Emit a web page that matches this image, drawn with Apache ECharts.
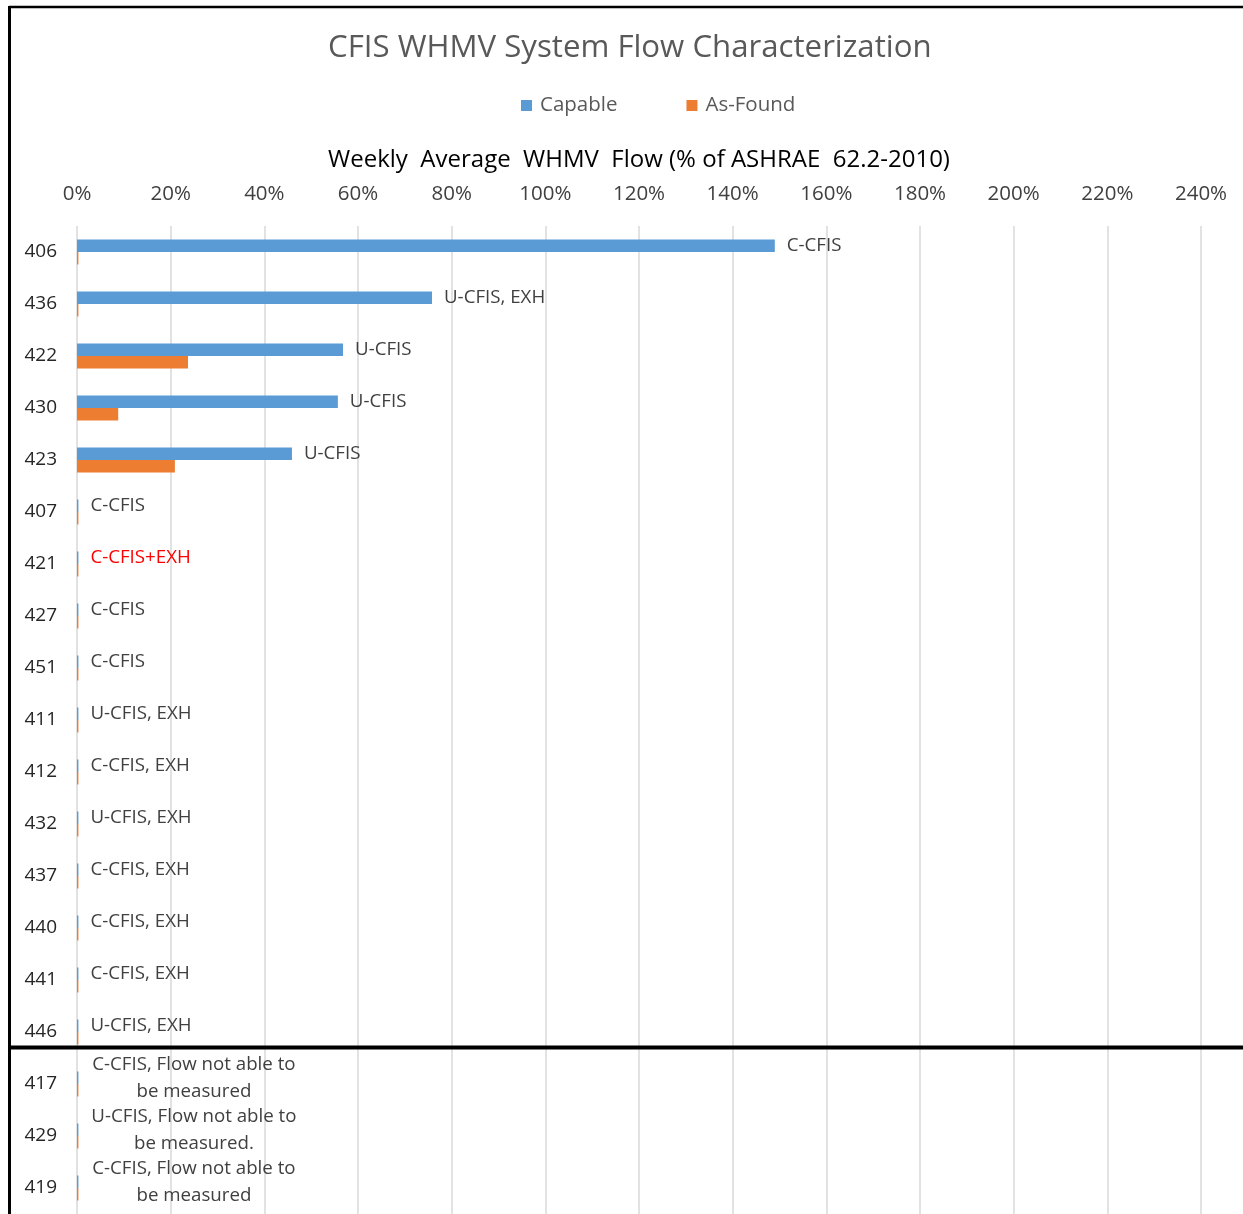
<!DOCTYPE html>
<html>
<head>
<meta charset="utf-8">
<script src="https://cdn.jsdelivr.net/npm/echarts@6/dist/echarts.min.js"></script>
<style>
html,body{margin:0;padding:0;background:#fff;}
#chart{width:1243px;height:1214px;}
</style>
</head>
<body>
<div id="chart"></div>
<script>
// ---- data ----
var categories = ['406','436','422','430','423','407','421','427','451','411','412','432','437','440','441','446','417','429','419'];
var capable   = [149, 75.8, 56.8, 55.7, 45.9, 0.3, 0.3, 0.3, 0.3, 0.3, 0.3, 0.3, 0.3, 0.3, 0.3, 0.3, 0.3, 0.3, 0.3];
var asFound   = [0.3, 0.3, 23.7, 8.8, 20.9, 0.3, 0.3, 0.3, 0.3, 0.3, 0.3, 0.3, 0.3, 0.3, 0.3, 0.3, 0.3, 0.3, 0.3];
var barLabels = ['C-CFIS','U-CFIS, EXH','U-CFIS','U-CFIS','U-CFIS','C-CFIS','C-CFIS+EXH','C-CFIS','C-CFIS',
  'U-CFIS, EXH','C-CFIS, EXH','U-CFIS, EXH','C-CFIS, EXH','C-CFIS, EXH','C-CFIS, EXH','U-CFIS, EXH',
  'C-CFIS, Flow not able to\nbe measured','U-CFIS, Flow not able to\nbe measured.','C-CFIS, Flow not able to\nbe measured'];
var redLabelIndex = 6;
var xTicks = {min: 0, max: 240, interval: 20};

var FONT = '"Open Sans", "Noto Sans", sans-serif';

var capData = capable.map(function (v, i) {
  var lbl = barLabels[i];
  var item = {value: v};
  if (lbl.indexOf('\n') >= 0) {
    item.label = {
      formatter: lbl.split('\n').map(function (s) { return '{m|' + s + '}'; }).join('\n')
    };
  } else if (i === redLabelIndex) {
    item.label = {color: '#FF0000'};
  }
  return item;
});

var chart = echarts.init(document.getElementById('chart'), null, {renderer: 'canvas'});
var option = {
  backgroundColor: '#ffffff',
  animation: false,
  textStyle: {fontFamily: FONT},
  title: {
    text: 'CFIS WHMV System Flow Characterization',
    left: 323, top: 28,
    textStyle: {fontFamily: FONT, fontSize: 31.2, fontWeight: 'normal', color: '#595959'}
  },
  legend: {
    data: ['Capable', 'As-Found'],
    top: 90, left: 516,
    itemWidth: 11, itemHeight: 11, itemGap: 69,
    icon: 'rect',
    textStyle: {fontFamily: FONT, fontSize: 20.5, color: '#595959', padding: [0, 0, 0, 3]}
  },
  grid: {left: 77, right: 42, top: 226, bottom: 0},
  xAxis: {
    type: 'value',
    position: 'top',
    min: xTicks.min, max: xTicks.max, interval: xTicks.interval,
    name: 'Weekly  Average  WHMV  Flow (% of ASHRAE  62.2-2010)',
    nameLocation: 'middle',
    nameGap: 54,
    nameTextStyle: {fontFamily: FONT, fontSize: 24, color: '#000000'},
    axisLine: {show: false},
    axisTick: {show: false},
    axisLabel: {formatter: '{value}%', fontFamily: FONT, fontSize: 20.5, color: '#404040', margin: 21},
    splitLine: {show: true, lineStyle: {color: '#d9d9d9', width: 1.5}}
  },
  yAxis: {
    type: 'category',
    data: categories,
    inverse: true,
    axisLine: {show: false},
    axisTick: {show: false},
    axisLabel: {fontFamily: FONT, fontSize: 19, color: '#262626', margin: 20}
  },
  series: [
    {
      name: 'Capable', type: 'bar', data: capData,
      barWidth: 12.6, barGap: '0%',
      itemStyle: {color: '#5B9BD5'},
      label: {
        show: true, position: 'right', distance: 12,
        formatter: function (p) { return barLabels[p.dataIndex]; },
        fontFamily: FONT, fontSize: 18.7, color: '#404040', lineHeight: 27,
        rich: {m: {width: 207, align: 'center', fontFamily: FONT, fontSize: 18.7, color: '#404040', lineHeight: 27}}
      }
    },
    {
      name: 'As-Found', type: 'bar', data: asFound,
      barWidth: 12.6, barGap: '0%',
      itemStyle: {color: '#ED7D31'}
    }
  ],
  graphic: [
    {type: 'line', shape: {x1: 9, y1: 7, x2: 1243, y2: 7}, style: {stroke: '#000', lineWidth: 2.5}, z: 100},
    {type: 'line', shape: {x1: 9.5, y1: 6, x2: 9.5, y2: 1214}, style: {stroke: '#000', lineWidth: 3}, z: 100},
    {type: 'line', shape: {x1: 9, y1: 1047.5, x2: 1243, y2: 1047.5}, style: {stroke: '#000', lineWidth: 4}, z: 100}
  ]
};
chart.setOption(option);
</script>
</body>
</html>
